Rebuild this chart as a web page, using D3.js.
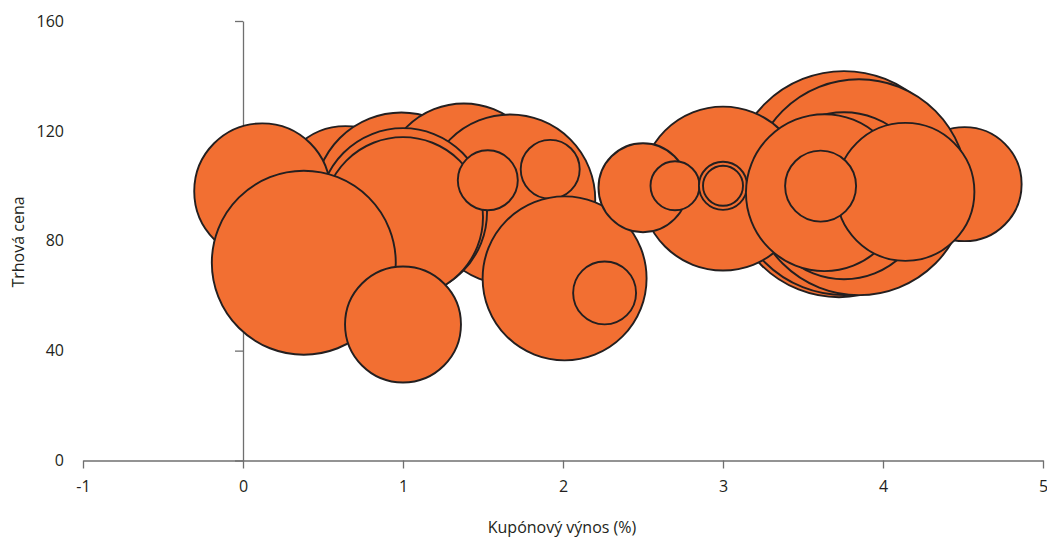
<!DOCTYPE html>
<html>
<head>
<meta charset="utf-8">
<script src="https://cdn.jsdelivr.net/npm/d3@7"></script>
<style>
  html, body { margin: 0; padding: 0; background: #fff; }
  svg { display: block; }
  text { font-family: "Open Sans", "Noto Sans", sans-serif; fill: #231f20; }
</style>
</head>
<body>
<svg id="chart" width="1047" height="540"></svg>
<script>
// Data (drawing order)
const coupon = [0.64, 0.99, 1.38, 1.67, 1.0, 1.0, 0.12, 0.38, 1.0, 1.53, 1.92, 2.01, 2.26,
                4.51, 3.725, 3.756, 3.85, 3.0, 2.5, 2.7, 3.0, 3.0, 3.756, 3.634, 4.14, 3.61];
const price  = [97, 95, 100.5, 95, 90.4, 88.6, 98, 72, 49.5, 102, 106, 66.3, 61,
                100.6, 99.5, 101, 99.5, 99, 99.3, 100, 100, 100, 96.4, 97.5, 97.8, 99.9];
const volume = [462, 757, 656, 723, 706, 640, 462, 846, 336, 90, 87, 672, 99,
                325, 1210, 1254, 1166, 672, 198, 60, 58, 40, 697, 616, 476, 126];
const xTicks = [-1, 0, 1, 2, 3, 4, 5];
const xTickLabels = ["-1", "0", "1", "2", "3", "4", "5"];
const yTicks = [0, 40, 80, 120, 160];
const yTickLabels = ["0", "40", "80", "120", "160"];
const xTitle = "Kupónový výnos (%)";
const yTitle = "Trhová cena";

const svg = d3.select("#chart");
const x = d3.scaleLinear().domain([-1, 5]).range([83, 1043]);
const y = d3.scaleLinear().domain([0, 160]).range([460.5, 21]);
const r = d3.scaleSqrt().domain([0, 1000]).range([0, 100]);

const axisColor = "#6f6f6f";
const fontSize = 16;

// x axis
const gx = svg.append("g")
  .attr("transform", `translate(0,${y(0)})`)
  .call(d3.axisBottom(x).tickValues(xTicks).tickSize(8).tickSizeOuter(0).tickPadding(12)
        .tickFormat((d, i) => xTickLabels[i]));
gx.selectAll("path,line").attr("stroke", axisColor).attr("stroke-width", 1.3);
gx.selectAll("text").attr("font-size", fontSize).attr("fill", "#231f20")
  .style("font-family", '"Open Sans", sans-serif');

// y axis at x = 0
const gy = svg.append("g")
  .attr("transform", `translate(${x(0)},0)`)
  .call(d3.axisLeft(y).tickValues(yTicks).tickSize(8).tickSizeOuter(0)
        .tickPadding(x(0) - 64 - 8).tickFormat((d, i) => yTickLabels[i]));
gy.selectAll("path,line").attr("stroke", axisColor).attr("stroke-width", 1.3);
gy.selectAll("text").attr("font-size", fontSize).attr("fill", "#231f20")
  .style("font-family", '"Open Sans", sans-serif');

// bubbles
const data = coupon.map((c, i) => ({c, p: price[i], v: volume[i]}));
svg.append("g").selectAll("circle").data(data).join("circle")
  .attr("cx", d => x(d.c))
  .attr("cy", d => y(d.p))
  .attr("r", d => r(d.v))
  .attr("fill", "#f26f32")
  .attr("stroke", "#231f20")
  .attr("stroke-width", 1.9);

// titles
svg.append("text")
  .attr("x", 562).attr("y", 533)
  .attr("text-anchor", "middle")
  .attr("font-size", fontSize)
  .text(xTitle);
svg.append("text")
  .attr("transform", "translate(24,242) rotate(-90)")
  .attr("text-anchor", "middle")
  .attr("font-size", fontSize)
  .text(yTitle);
</script>
</body>
</html>
